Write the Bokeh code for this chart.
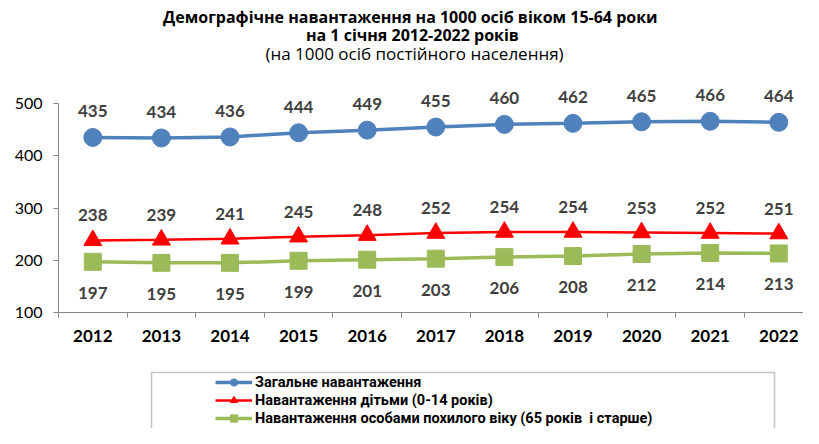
from bokeh.plotting import figure
from bokeh.models import (Range1d, FixedTicker, Label, Legend, LegendItem,
                          BoxAnnotation, ColumnDataSource)
from bokeh.core.properties import value
from bokeh.embed import file_html
from bokeh.resources import INLINE

years = [2012, 2013, 2014, 2015, 2016, 2017, 2018, 2019, 2020, 2021, 2022]
total = [435, 434, 436, 444, 449, 455, 460, 462, 465, 466, 464]
children = [238, 239, 241, 245, 248, 252, 254, 254, 253, 252, 251]
elderly = [197, 195, 195, 199, 201, 203, 206, 208, 212, 214, 213]
y_ticks = [100, 200, 300, 400, 500]

title_lines = [
    "Демографічне навантаження  на 1000 осіб віком  15-64 роки",
    "на 1 січня  2012-2022 років",
    "(на 1000 осіб постійного населення)",
]
series_names = [
    "Загальне навантаження",
    "Навантаження дітьми (0-14 років)",
    "Навантаження особами похилого віку (65 років  і старше)",
]

W, H = 803, 428
# pixel geometry of the plotting area (canvas pixels)
AX_LEFT, CAT_W = 58.0, 68.6
Y500, Y100 = 103.0, 312.0
ppu = (Y100 - Y500) / 400.0
x0 = -AX_LEFT / CAT_W
x1 = (W - AX_LEFT) / CAT_W
y_top = 500 + Y500 / ppu
y_bot = 100 - (H - Y100) / ppu

xs = [i + 0.5 for i in range(len(years))]
src = ColumnDataSource(dict(
    x=xs, total=total, children=children, elderly=elderly,
    t_lbl=[str(v) for v in total],
    c_lbl=[str(v) for v in children],
    e_lbl=[str(v) for v in elderly],
))

p = figure(width=W, height=H, output_backend="svg", toolbar_location=None,
           x_range=Range1d(x0, x1), y_range=Range1d(y_bot, y_top),
           min_border=0, min_border_left=0, min_border_right=0,
           min_border_top=0, min_border_bottom=0)
p.outline_line_color = None
p.grid.visible = False
p.background_fill_color = "white"
p.border_fill_color = "white"

BLUE = "#4F81BD"
RED = "#FF0000"
GREEN = "#9BBB59"
AXIS = "#868686"
LBL = "#404040"

# x axis
xa = p.xaxis[0]
xa.fixed_location = 100
xa.bounds = (0, len(years))
xa.ticker = FixedTicker(ticks=xs, minor_ticks=list(range(len(years) + 1)))
xa.major_label_overrides = {x: str(y) for x, y in zip(xs, years)}
xa.major_tick_line_color = None
xa.major_tick_in = 0
xa.major_tick_out = 5
xa.minor_tick_line_color = AXIS
xa.minor_tick_in = 0
xa.minor_tick_out = 5
xa.axis_line_color = AXIS
xa.major_label_text_font = "Lato"
xa.major_label_text_font_style = "bold"
xa.major_label_text_font_size = "17px"
xa.major_label_text_color = "black"
xa.major_label_standoff = 12

# y axis
ya = p.yaxis[0]
ya.fixed_location = 0
ya.bounds = (100, 500)
ya.ticker = FixedTicker(ticks=y_ticks)
ya.axis_line_color = AXIS
ya.major_tick_line_color = AXIS
ya.major_tick_in = 0
ya.major_tick_out = 5
ya.minor_tick_line_color = None
ya.major_label_text_font = "Lato"
ya.major_label_text_font_size = "16px"
ya.major_label_text_color = "black"
ya.major_label_standoff = 11

# series
l1 = p.line("x", "total", source=src, line_color=BLUE, line_width=3.5)
m1 = p.scatter("x", "total", source=src, marker="circle", size=18,
               fill_color=BLUE, line_color=BLUE)
l2 = p.line("x", "children", source=src, line_color=RED, line_width=2.5)
m2 = p.scatter("x", "children", source=src, marker="triangle", size=18,
               fill_color=RED, line_color=RED)
l3 = p.line("x", "elderly", source=src, line_color=GREEN, line_width=3.5)
m3 = p.scatter("x", "elderly", source=src, marker="square", size=17,
               fill_color=GREEN, line_color=GREEN)

common = dict(source=src, x="x", text_align="center", text_baseline="middle",
              text_font=value("Lato"), text_font_style="bold",
              text_font_size="17px", text_color=LBL)
p.text(y="total", text="t_lbl", y_offset=-26, **common)
p.text(y="children", text="c_lbl", y_offset=-25, **common)
p.text(y="elderly", text="e_lbl", y_offset=31, **common)

# titles (screen units, y measured up from the bottom of the canvas)
cx = 414
for txt, ypix, bold, fs in [(title_lines[0], 16, True, "16px"),
                            (title_lines[1], 34, True, "16px"),
                            (title_lines[2], 53, False, "17px")]:
    p.add_layout(Label(x=cx, y=H - ypix, x_units="screen", y_units="screen",
                       text=txt, text_align="center", text_baseline="middle",
                       text_font="Open Sans",
                       text_font_style="bold" if bold else "normal",
                       text_font_size=fs, text_color="black"))

# legend frame
p.add_layout(BoxAnnotation(left=151, right=774, top=H - 372, bottom=-10,
                           left_units="screen", right_units="screen",
                           top_units="screen", bottom_units="screen",
                           fill_alpha=0, line_color="#404040", line_width=1.5,
                           level="overlay"))

legend = Legend(items=[
    LegendItem(label=series_names[0], renderers=[l1, m1]),
    LegendItem(label=series_names[1], renderers=[l2, m2]),
    LegendItem(label=series_names[2], renderers=[l3, m3]),
], location=(215, H - 427), padding=0, margin=0, spacing=0,
    glyph_width=37, glyph_height=18, label_height=18, label_standoff=3,
    label_text_font="Roboto", label_text_font_style="bold",
    label_text_font_size="14.5px", label_text_color="black",
    border_line_color=None, background_fill_alpha=0)
p.add_layout(legend, "center")

open("out.html", "w").write(file_html(p, INLINE))
